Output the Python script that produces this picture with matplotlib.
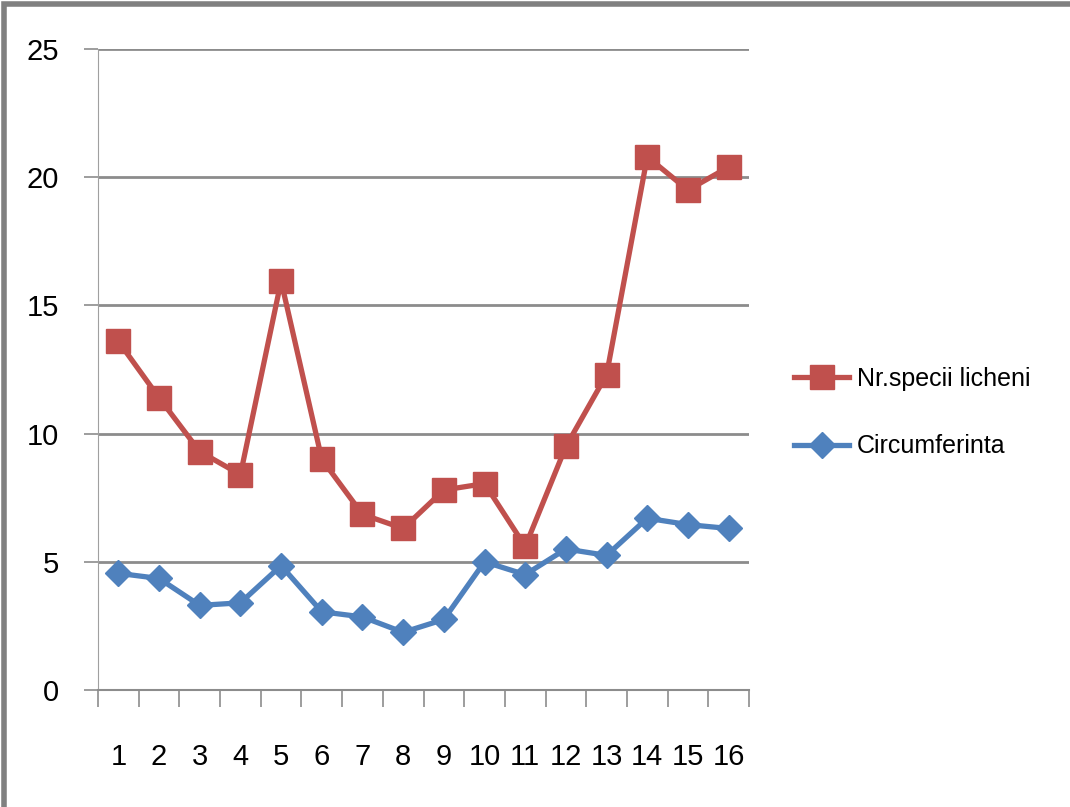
import matplotlib
matplotlib.use("Agg")
import matplotlib.pyplot as plt
from matplotlib.patches import Rectangle

plt.rcParams['font.family'] = ['Liberation Sans Narrow', 'Liberation Sans', 'DejaVu Sans']

# data
puncte = list(range(1, 17))
specii_licheni = [13.6, 11.4, 9.3, 8.4, 15.95, 9.0, 6.85, 6.3, 7.8, 8.05, 5.6, 9.5, 12.3, 20.8, 19.5, 20.4]
circumferinta = [4.55, 4.35, 3.3, 3.4, 4.85, 3.05, 2.85, 2.25, 2.75, 5.0, 4.5, 5.5, 5.25, 6.7, 6.45, 6.3]

fig = plt.figure(figsize=(10.7, 8.07), dpi=100)
ax = fig.add_axes([0.0916, 0.145, 0.6084, 0.7942])

red = '#C0504D'
blue = '#4F81BD'

ax.plot(puncte, specii_licheni, color=red, linewidth=3.8, marker='s',
        markersize=17, label='Nr.specii licheni', zorder=3)
ax.plot(puncte, circumferinta, color=blue, linewidth=3.8, marker='D',
        markersize=13, label='Circumferinta', zorder=4)

ax.set_xlim(0.5, 16.5)
ax.set_ylim(0, 25)
ax.set_yticks([0, 5, 10, 15, 20, 25])
ax.yaxis.grid(True, color='#8c8c8c', linewidth=2)
ax.set_axisbelow(True)

# category ticks between points, labels centered
ax.set_xticks([x + 0.5 for x in range(0, 17)], minor=False)
ax.set_xticklabels([])
ax.set_xticks(puncte, minor=True)
ax.set_xticklabels([str(p) for p in puncte], minor=True)
ax.tick_params(axis='x', which='major', length=12, direction='out', color='#8c8c8c', width=1.2)
ax.tick_params(axis='x', which='minor', length=0, pad=38, labelsize=21)
ax.tick_params(axis='y', length=10, color='#8c8c8c', width=1.2, labelsize=21, pad=18)

for s in ['top', 'right']:
    ax.spines[s].set_visible(False)
ax.spines['left'].set_color('#a0a0a0')
ax.spines['bottom'].set_color('#8c8c8c')
ax.spines['bottom'].set_linewidth(1.5)

leg = ax.legend(loc='center left', bbox_to_anchor=(1.035, 0.433), frameon=False,
                fontsize=18, handlelength=2.2, handletextpad=0.3, labelspacing=1.75)

# outer grey frame
fig.patches.append(Rectangle((0.004, -0.05), 1.2, 1.045, transform=fig.transFigure,
                             fill=False, edgecolor='#808080', linewidth=4))

fig.savefig('out.png', dpi=100)
